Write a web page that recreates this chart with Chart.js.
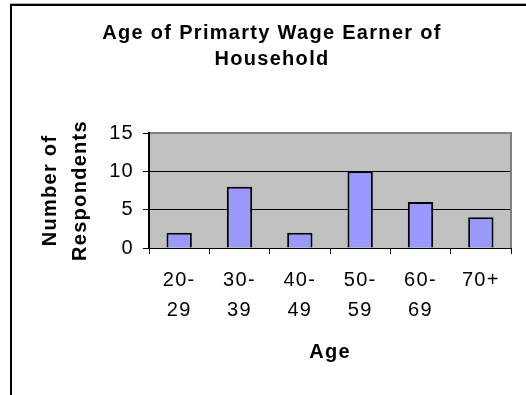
<!DOCTYPE html>
<html>
<head>
<meta charset="utf-8">
<script src="https://cdn.jsdelivr.net/npm/chart.js@4.4.1/dist/chart.umd.min.js"></script>
<style>
  html, body { margin: 0; padding: 0; background: #fff; overflow: hidden; }
  #wrap { position: relative; width: 526px; height: 395px; overflow: hidden; }
  #frame { position: absolute; left: 10px; top: 4px; width: 600px; height: 500px; border: 2px solid #000; box-shadow: 0 -1px 0 #b4b4b4; }
  #chartAge { position: absolute; left: 0; top: 0; }
</style>
</head>
<body>
<div id="wrap">
  <div id="frame"></div>
  <canvas id="chartAge" width="526" height="395"></canvas>
</div>
<script>
// age brackets, respondent counts, y tick values
const ageGroups = [['20-', '29'], ['30-', '39'], ['40-', '49'], ['50-', '59'], ['60-', '69'], '70+'];
const respondents = [2, 8, 2, 10, 6, 4];
const countTicks = [0, 5, 10, 15];

const FONT = "'Liberation Sans', Arial, sans-serif";
const SPACING = '1.3px';
Chart.defaults.color = '#000';
Chart.defaults.font.family = FONT;

// grey plot background + grey top/right edge, plus the wide letter spacing
const plotFrame = {
  id: 'plotFrame',
  beforeLayout(chart) { chart.ctx.letterSpacing = SPACING; },
  beforeDraw(chart) {
    const { ctx, chartArea: a } = chart;
    ctx.letterSpacing = SPACING;
    ctx.save();
    ctx.fillStyle = '#c0c0c0';
    ctx.fillRect(a.left, a.top, a.right - a.left, a.bottom - a.top);
    ctx.restore();
  },
  beforeDatasetsDraw(chart) {
    const { ctx, chartArea: a } = chart;
    ctx.save();
    ctx.strokeStyle = '#808080';
    ctx.lineWidth = 2;
    ctx.beginPath();
    ctx.moveTo(a.left + 1, a.top);
    ctx.lineTo(a.right, a.top);
    ctx.lineTo(a.right, a.bottom);
    ctx.stroke();
    ctx.restore();
  }
};

new Chart(document.getElementById('chartAge'), {
  type: 'bar',
  data: {
    labels: ageGroups,
    datasets: [{
      data: respondents,
      backgroundColor: '#9999ff',
      borderColor: '#000',
      borderWidth: 2,
      barPercentage: 0.42,
      categoryPercentage: 1
    }]
  },
  options: {
    responsive: false,
    animation: false,
    layout: { padding: { left: 33, right: 15, top: 0, bottom: 0 } },
    plugins: {
      legend: { display: false },
      tooltip: { enabled: false },
      title: {
        display: true,
        text: ['Age of Primarty Wage Earner of', 'Household'],
        font: { size: 20, weight: 'bold', lineHeight: 26 / 20 },
        padding: { top: 20, bottom: 61 }
      }
    },
    scales: {
      x: {
        afterFit: s => { s.height = 147; },
        grid: { drawOnChartArea: false, color: '#000', tickLength: 6, offset: true },
        border: { color: '#000', width: 1 },
        ticks: { padding: 11, maxRotation: 0, autoSkip: false, font: { size: 20, lineHeight: 30 / 20 } },
        title: {
          display: true,
          text: 'Age',
          font: { size: 20, weight: 'bold', lineHeight: 1 },
          padding: { top: 0, bottom: 33 }
        }
      },
      y: {
        min: 0,
        max: 15,
        afterBuildTicks: s => { s.ticks = countTicks.map(v => ({ value: v })); },
        afterFit: s => { s.width = 116; },
        grid: { color: '#000', tickLength: 6 },
        border: { color: '#000', width: 2 },
        ticks: { padding: 9, font: { size: 20 } },
        title: {
          display: true,
          text: ['Number of', 'Respondents'],
          font: { size: 20, weight: 'bold', lineHeight: 30 / 20 },
          padding: { top: 2, bottom: 0 }
        }
      }
    }
  },
  plugins: [plotFrame]
});
</script>
</body>
</html>
